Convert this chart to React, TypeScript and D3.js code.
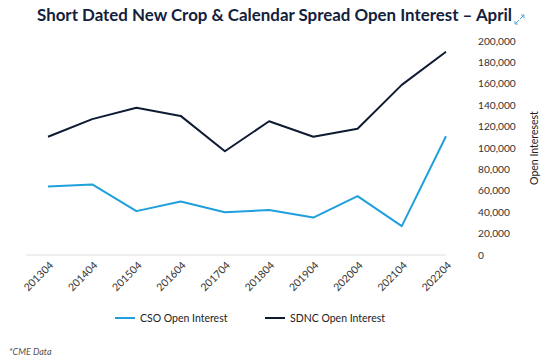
import React from "react";
import * as d3 from "d3";

const categories = ["201304","201404","201504","201604","201704","201804","201904","202004","202104","202204"];
const csoValues = [64000, 66000, 41000, 50000, 40000, 42000, 35000, 55000, 27000, 111000];
const sdncValues = [110500, 127000, 137600, 130000, 97000, 125000, 110500, 118000, 159000, 190000];
const yTicks = [0, 20000, 40000, 60000, 80000, 100000, 120000, 140000, 160000, 180000, 200000];

const W = 550, H = 362;
const FONT = "Lato, 'Open Sans', sans-serif";

export default function App() {
  const x = d3.scalePoint<string>().domain(categories).range([48, 446]);
  const y = d3.scaleLinear().domain([0, 200000]).range([255, 41]);
  const line = d3.line<number>().x((_, i) => x(categories[i])!).y(d => y(d));
  const fmt = d3.format(",");
  return (
    <svg width={W} height={H} style={{ position: "absolute", left: 0, top: 0, background: "#fff" }} fontFamily={FONT}>
      <text x={274.5} y={21} textAnchor="middle" fontSize={17} fontWeight={700} fill="#14213d" textLength={475} lengthAdjust="spacingAndGlyphs">
        Short Dated New Crop &amp; Calendar Spread Open Interest – April
      </text>
      <g stroke="#4aa8dc" strokeWidth={1} fill="none">
        <path d="M515,24 L519,20 M515,21 L515,24 L518,24" />
        <path d="M520,19 L524,15 M521,15 L524,15 L524,18" />
      </g>
      <line x1={26} x2={446} y1={y(0)} y2={y(0)} stroke="#e0e0e0" strokeWidth={1} />
      {yTicks.map(t => (
        <text key={t} x={478} y={y(t)} dy="0.35em" fontSize={10.2} fill="#333">{fmt(t)}</text>
      ))}
      <text transform={`translate(538,148) rotate(-90)`} textAnchor="middle" fontSize={10.5} fill="#222">Open Interesest</text>
      {categories.map(c => (
        <text key={c} transform={`translate(${x(c)! + 6},${266}) rotate(-45)`} textAnchor="end" fontSize={10.5} fill="#333">{c}</text>
      ))}
      <path d={line(sdncValues)!} fill="none" stroke="#0f1a33" strokeWidth={2} strokeLinejoin="round" />
      <path d={line(csoValues)!} fill="none" stroke="#1fa0dc" strokeWidth={2} strokeLinejoin="round" />
      <line x1={115} x2={135} y1={318} y2={318} stroke="#1fa0dc" strokeWidth={2} />
      <text x={140} y={318} dy="0.35em" fontSize={10.5} fill="#222">CSO Open Interest</text>
      <line x1={265} x2={285} y1={318} y2={318} stroke="#0f1a33" strokeWidth={2} />
      <text x={290} y={318} dy="0.35em" fontSize={10.5} fill="#222">SDNC Open Interest</text>
      <text x={9} y={355} fontSize={9} fontStyle="italic" fill="#555">*CME Data</text>
    </svg>
  );
}
